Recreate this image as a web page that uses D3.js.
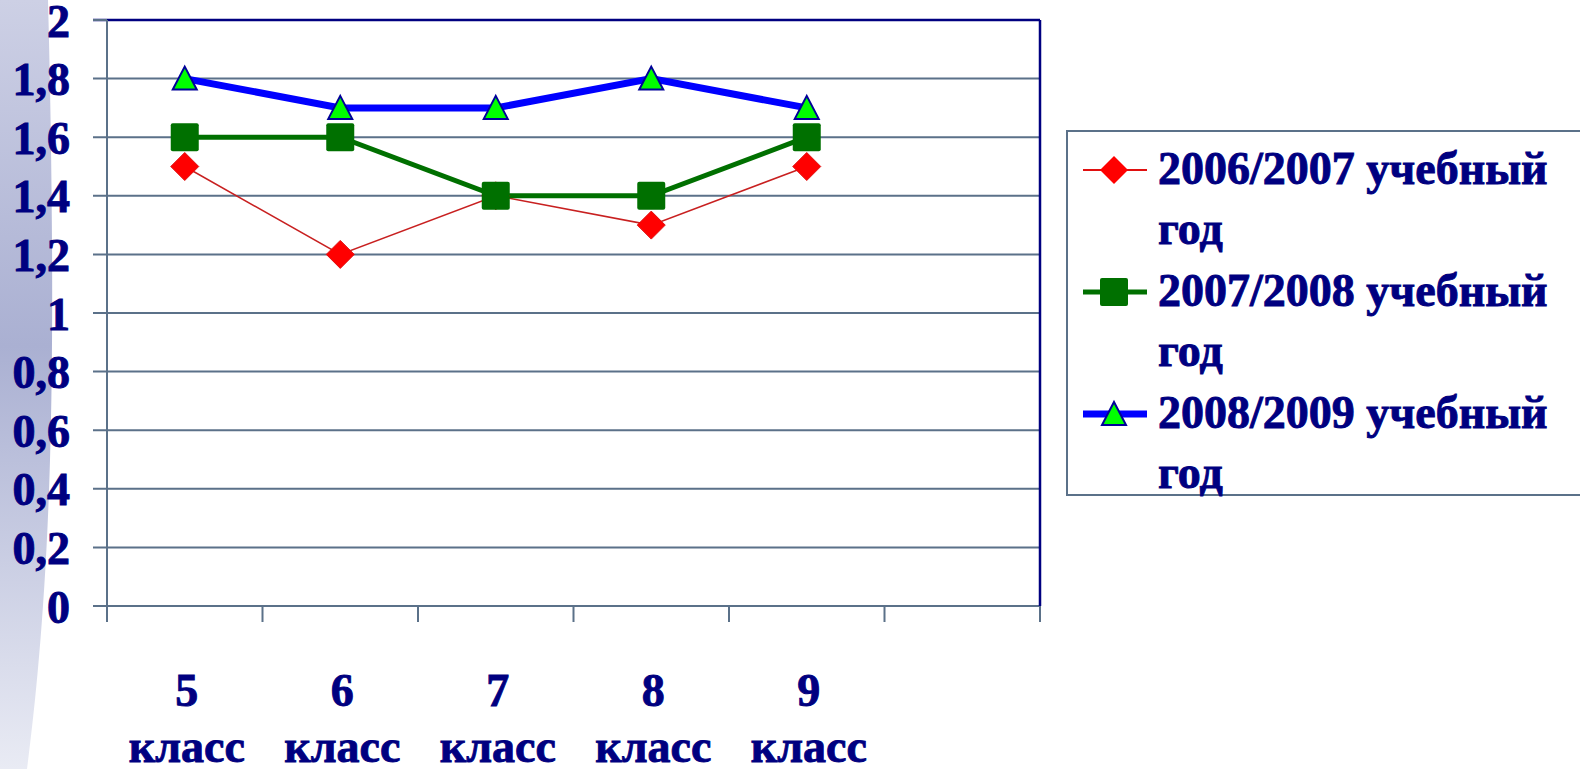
<!DOCTYPE html>
<html>
<head>
<meta charset="utf-8">
<script src="https://cdn.jsdelivr.net/npm/d3@7"></script>
<style>
  body { margin: 0; background: #fff; overflow: hidden; }
  text { font-family: "Liberation Serif", "Times New Roman", serif; font-weight: bold; fill: #000080; stroke: #000080; stroke-width: 0.9px; }
</style>
</head>
<body>
<div id="chart"></div>
<script>
// grades and the three school years
var grades = ["5", "6", "7", "8", "9"];
var slots = ["5", "6", "7", "8", "9", "-"]; // Excel leaves one empty slot on the right
var yTicks = [0, 0.2, 0.4, 0.6, 0.8, 1, 1.2, 1.4, 1.6, 1.8, 2];
var seriesNames = ["2006/2007 учебный", "2007/2008 учебный", "2008/2009 учебный"];
var values0607 = [1.5, 1.2, 1.4, 1.3, 1.5];
var values0708 = [1.6, 1.6, 1.4, 1.4, 1.6];
var values0809 = [1.8, 1.7, 1.7, 1.8, 1.7];

var W = 1580, H = 769;
var plotLeft = 107, plotRight = 1040, plotTop = 20, plotBottom = 606;

var svg = d3.select("#chart")
  .append("svg")
  .attr("width", W)
  .attr("height", H);

// slide background strip on the left
var defs = svg.append("defs");
var grad = defs.append("linearGradient")
  .attr("id", "strip")
  .attr("x1", 0).attr("y1", 0).attr("x2", 0).attr("y2", 1);
grad.append("stop").attr("offset", "0%").attr("stop-color", "#cdd0e5");
grad.append("stop").attr("offset", "45%").attr("stop-color", "#aab0d2");
grad.append("stop").attr("offset", "100%").attr("stop-color", "#e9ebf4");
svg.append("path")
  .attr("d", "M0,0 L48,0 C52,150 54,330 50,460 C46,600 36,700 27,769 L0,769 Z")
  .style("fill", "url(#strip)");

var x = d3.scaleBand()
  .domain(slots)
  .range([plotLeft, plotRight]);

var y = d3.scaleLinear()
  .domain([0, 2])
  .range([plotBottom, plotTop]);

var axisColor = "#5b7189";

// horizontal gridlines (with little tick stubs on the left)
svg.selectAll(".grid")
  .data(yTicks)
  .enter().append("line")
  .attr("x1", plotLeft - 14)
  .attr("x2", plotRight)
  .attr("y1", function(d) { return y(d); })
  .attr("y2", function(d) { return y(d); })
  .style("stroke", function(d) { return d == 2 ? "#000080" : axisColor; })
  .style("stroke-width", function(d) { return d == 2 ? 2.5 : 2; });

// re-draw the left stub of the top line in grey
svg.append("line")
  .attr("x1", plotLeft - 14).attr("x2", plotLeft)
  .attr("y1", y(2)).attr("y2", y(2))
  .style("stroke", axisColor).style("stroke-width", 2);

// y axis line
svg.append("line")
  .attr("x1", plotLeft).attr("x2", plotLeft)
  .attr("y1", plotTop).attr("y2", plotBottom + 14)
  .style("stroke", axisColor).style("stroke-width", 2);

// right border of plot area
svg.append("line")
  .attr("x1", plotRight).attr("x2", plotRight)
  .attr("y1", plotTop).attr("y2", plotBottom)
  .style("stroke", "#000080").style("stroke-width", 2.5);

// category tick marks at band boundaries
var bounds = slots.map(function(s) { return x(s); }).concat([plotRight]);
svg.selectAll(".xtick")
  .data(bounds)
  .enter().append("line")
  .attr("x1", function(d) { return d; })
  .attr("x2", function(d) { return d; })
  .attr("y1", plotBottom)
  .attr("y2", plotBottom + 16)
  .style("stroke", axisColor).style("stroke-width", 2);

// y labels
svg.selectAll(".ylab")
  .data(yTicks)
  .enter().append("text")
  .attr("x", 70)
  .attr("y", function(d) { return y(d); })
  .attr("dy", "0.36em")
  .style("text-anchor", "end")
  .style("font-size", "46px")
  .text(function(d) { return String(d).replace(".", ","); });

// x labels, two lines
var xl = svg.selectAll(".xlab")
  .data(grades)
  .enter().append("text")
  .style("text-anchor", "middle")
  .style("font-size", "46px");
xl.append("tspan")
  .attr("x", function(d) { return x(d) + x.bandwidth() / 2 + 2; })
  .attr("y", 706)
  .text(function(d) { return d; });
xl.append("tspan")
  .attr("x", function(d) { return x(d) + x.bandwidth() / 2 + 2; })
  .attr("y", 762)
  .text("класс");

var cx = function(d, i) { return x(grades[i]) + x.bandwidth() / 2; };
var line = d3.line()
  .x(function(d, i) { return cx(d, i); })
  .y(function(d) { return y(d); });

// 2006/2007 - thin red line, diamonds
svg.append("path")
  .datum(values0607)
  .attr("d", line)
  .style("fill", "none")
  .style("stroke", "#c82020")
  .style("stroke-width", 1.5);

// 2007/2008 - green line, squares
svg.append("path")
  .datum(values0708)
  .attr("d", line)
  .style("fill", "none")
  .style("stroke", "#007000")
  .style("stroke-width", 5);

// 2008/2009 - blue line, triangles
svg.append("path")
  .datum(values0809)
  .attr("d", line)
  .style("fill", "none")
  .style("stroke", "#0000ff")
  .style("stroke-width", 7);

var diamond = "M0,-14 L14,0 L0,14 L-14,0 Z";
var square = "M-12,-14 L12,-14 Q14,-14 14,-12 L14,12 Q14,14 12,14 L-12,14 Q-14,14 -14,12 L-14,-12 Q-14,-14 -12,-14 Z";
var triangle = "M0,-12 L12,11 L-12,11 Z";

svg.selectAll(".m1")
  .data(values0607)
  .enter().append("path")
  .attr("d", diamond)
  .attr("transform", function(d, i) { return "translate(" + cx(d, i) + "," + y(d) + ")"; })
  .style("fill", "#ff0000")
  .style("stroke", "#e01010")
  .style("stroke-width", 1);

svg.selectAll(".m2")
  .data(values0708)
  .enter().append("path")
  .attr("d", square)
  .attr("transform", function(d, i) { return "translate(" + cx(d, i) + "," + y(d) + ")"; })
  .style("fill", "#007000");

svg.selectAll(".m3")
  .data(values0809)
  .enter().append("path")
  .attr("d", triangle)
  .attr("transform", function(d, i) { return "translate(" + cx(d, i) + "," + y(d) + ")"; })
  .style("fill", "#00ff00")
  .style("stroke", "#000099")
  .style("stroke-width", 2);

// legend
svg.append("rect")
  .attr("x", 1067)
  .attr("y", 131)
  .attr("width", 560)
  .attr("height", 364)
  .style("fill", "white")
  .style("stroke", axisColor)
  .style("stroke-width", 2);

var legendStyles = [
  { line: "#e01010", lw: 2, mark: diamond, fill: "#ff0000", stroke: "none" },
  { line: "#007000", lw: 5, mark: square, fill: "#007000", stroke: "none" },
  { line: "#0000ff", lw: 7, mark: triangle, fill: "#00ff00", stroke: "#000099" }
];

var lg = svg.selectAll(".leg")
  .data(seriesNames)
  .enter().append("g")
  .attr("transform", function(d, i) { return "translate(0," + (170 + i * 122) + ")"; });

lg.append("line")
  .attr("x1", 1083).attr("x2", 1147)
  .attr("y1", 0).attr("y2", 0)
  .style("stroke", function(d, i) { return legendStyles[i].line; })
  .style("stroke-width", function(d, i) { return legendStyles[i].lw; });

lg.append("path")
  .attr("d", function(d, i) { return legendStyles[i].mark; })
  .attr("transform", "translate(1114,0)")
  .style("fill", function(d, i) { return legendStyles[i].fill; })
  .style("stroke", function(d, i) { return legendStyles[i].stroke; })
  .style("stroke-width", 2);

var lt = lg.append("text")
  .style("font-size", "46px");
lt.append("tspan")
  .attr("x", 1158)
  .attr("y", 14)
  .text(function(d) { return d; });
lt.append("tspan")
  .attr("x", 1158)
  .attr("y", 74)
  .text("год");
</script>
</body>
</html>
